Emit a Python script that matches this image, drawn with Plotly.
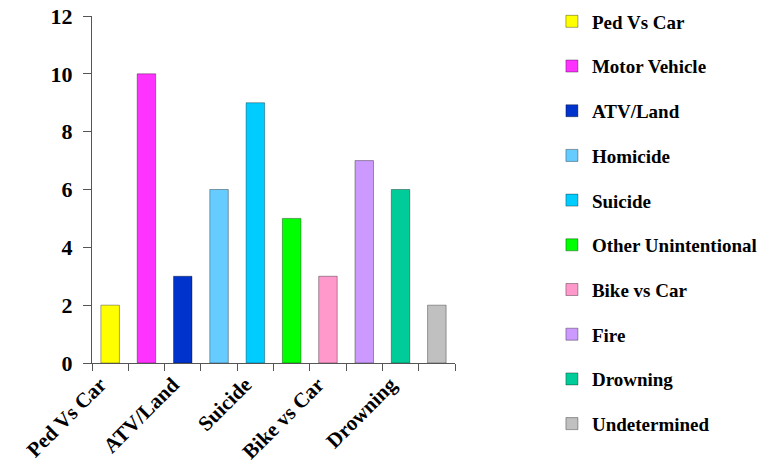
import plotly.graph_objects as go

categories = ["Ped Vs Car", "Motor Vehicle", "ATV/Land", "Homicide", "Suicide",
              "Other Unintentional", "Bike vs Car", "Fire", "Drowning", "Undetermined"]
values = [2, 10, 3, 6, 9, 5, 3, 7, 6, 2]
colors = ["#FFFF00", "#FF33FF", "#0033CC", "#66CCFF", "#00CCFF",
          "#00FF00", "#FF99CC", "#CC99FF", "#00CC99", "#C0C0C0"]
tick_labels = ["Ped Vs Car", "", "ATV/Land", "", "Suicide", "", "Bike vs Car", "", "Drowning", ""]
y_ticks = [0, 2, 4, 6, 8, 10, 12]

font_family = "Liberation Serif, Times New Roman, serif"

fig = go.Figure()
for cat, val, col in zip(categories, values, colors):
    fig.add_trace(go.Bar(
        x=[cat], y=[val], name=f"<b>{cat}</b>", legendgroup=cat,
        marker=dict(color=col, line=dict(color="rgba(0,0,0,0.35)", width=1)),
    ))

fig.update_layout(
    width=779, height=470,
    margin=dict(l=92, r=324, t=16, b=107, autoexpand=False),
    plot_bgcolor="white", paper_bgcolor="white",
    barmode="overlay", bargap=0.49,
    font=dict(family=font_family, size=19, color="black"),
    showlegend=True,
    legend=dict(x=1.267, xanchor="left", y=1.039, yanchor="top",
                tracegroupgap=17, maxheight=465,
                font=dict(family=font_family, size=19, color="black"),
                itemwidth=30),
    xaxis=dict(
        type="category", categoryorder="array", categoryarray=categories,
        tickvals=categories, ticktext=[f"<b>{t}</b>" if t else "" for t in tick_labels],
        tickangle=-45, tickson="boundaries", ticks="outside", ticklen=7, tickcolor="#555",
        ticklabelshift=-10,
        showline=True, linecolor="#555", linewidth=1, showgrid=False,
        tickfont=dict(family=font_family, size=21, color="black"),
    ),
    yaxis=dict(
        range=[0, 12], tickvals=y_ticks, ticktext=[f"<b>{v}</b>" for v in y_ticks],
        ticks="outside", ticklen=8, tickcolor="#555", ticklabelstandoff=6,
        showline=True, linecolor="#555", linewidth=1, showgrid=False, zeroline=False,
        tickfont=dict(family=font_family, size=22, color="black"),
    ),
)

fig.write_html("out.html", config={"displayModeBar": False},
               post_script="document.body.style.margin='0';")
